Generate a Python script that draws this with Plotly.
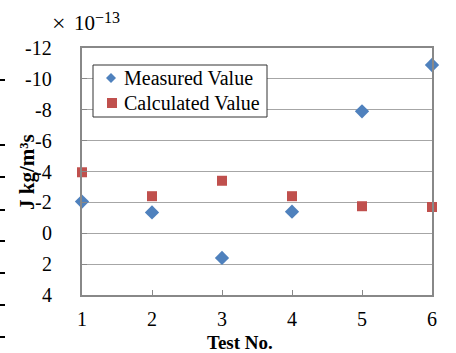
import plotly.graph_objects as go

tests = [1, 2, 3, 4, 5, 6]
measured = [-2.05, -1.35, 1.6, -1.4, -7.9, -10.9]
calculated = [-3.95, -2.4, -3.4, -2.4, -1.75, -1.7]
y_ticks = [-12, -10, -8, -6, -4, -2, 0, 2, 4]
y_tick_labels = ["-12", "-10", "-8", "-6", "-4", "-2", "0", "2", "4"]
series_names = ["Measured Value", "Calculated Value"]
series_colors = ["#4F81BD", "#C0504D"]

FONT = "Liberation Serif, Times New Roman, serif"

# plot area in pixels
L, R, T, B = 82, 432, 48, 295
def px(x): return (x - L) / (R - L)
def py(y): return (B - y) / (B - T)

fig = go.Figure()
fig.add_trace(go.Scatter(
    x=tests, y=measured, mode="markers", name=series_names[0],
    marker=dict(symbol="diamond", size=11, color=series_colors[0]),
    cliponaxis=False))
fig.add_trace(go.Scatter(
    x=tests, y=calculated, mode="markers", name=series_names[1],
    marker=dict(symbol="square", size=10, color=series_colors[1]),
    cliponaxis=False))

fig.update_layout(
    width=456, height=353,
    margin=dict(l=L, r=456 - R, t=T, b=353 - B, autoexpand=False),
    paper_bgcolor="white", plot_bgcolor="white",
    font=dict(family=FONT, size=20, color="black"),
    showlegend=False,
    xaxis=dict(range=[1, 6], tickvals=tests, showgrid=False,
               showline=True, linecolor="#888888", linewidth=1.5, mirror=True,
               ticks="inside", ticklen=5, tickcolor="#888888",
               ticklabelstandoff=5, zeroline=False, automargin=False,
               tickfont=dict(family=FONT, size=20)),
    yaxis=dict(range=[4, -12], tickvals=y_ticks, showticklabels=False,
               showgrid=True, gridcolor="#A6A6A6", gridwidth=1,
               showline=True, linecolor="#888888", linewidth=1.5, mirror=True,
               ticks="inside", ticklen=5, tickcolor="#888888",
               zeroline=False, automargin=False),
)

# y tick labels, placed on the y axis scale
for v, lab in zip(y_ticks, y_tick_labels):
    fig.add_annotation(text=lab, xref="paper", yref="y", x=px(54), y=v,
                       xanchor="right", yanchor="middle", showarrow=False,
                       font=dict(family=FONT, size=20))

# legend box (drawn by hand to match the reference spacing)
fig.add_shape(type="rect", xref="paper", yref="paper",
              x0=px(93), x1=px(267), y0=py(117), y1=py(65),
              line=dict(color="#333333", width=1), fillcolor="white", layer="above")
cx, cy, h = 111, 78, 5
fig.add_shape(type="path", xref="paper", yref="paper", layer="above",
              path=f"M {px(cx)},{py(cy - h)} L {px(cx + h)},{py(cy)} L {px(cx)},{py(cy + h)} L {px(cx - h)},{py(cy)} Z",
              line=dict(width=0), fillcolor=series_colors[0])
fig.add_shape(type="rect", xref="paper", yref="paper", layer="above",
              x0=px(107), x1=px(117), y0=py(108), y1=py(98),
              line=dict(width=0), fillcolor=series_colors[1])
for name, yc in zip(series_names, [78, 103]):
    fig.add_annotation(text=name, xref="paper", yref="paper",
                       x=px(122), y=py(yc), xanchor="left", yanchor="middle",
                       showarrow=False, font=dict(family=FONT, size=20))

fig.add_annotation(text="<b>Test No.</b>", xref="paper", yref="paper",
                   x=px(240), y=py(342), xanchor="center", yanchor="middle",
                   showarrow=False, font=dict(family=FONT, size=19))
fig.add_annotation(text="<b>J kg/m³s</b>", xref="paper", yref="paper",
                   x=px(27), y=py(172), xanchor="center", yanchor="middle",
                   textangle=-90, showarrow=False, font=dict(family=FONT, size=21))
fig.add_annotation(text="×", xref="paper", yref="paper",
                   x=px(59), y=py(23), xanchor="center", yanchor="middle",
                   showarrow=False, font=dict(family=FONT, size=24))
fig.add_annotation(text="10", xref="paper", yref="paper",
                   x=px(72), y=py(23), xanchor="left", yanchor="middle",
                   showarrow=False, font=dict(family=FONT, size=21))
fig.add_annotation(text="−13", xref="paper", yref="paper",
                   x=px(93), y=py(17), xanchor="left", yanchor="middle",
                   showarrow=False, font=dict(family=FONT, size=16))

# stray dashes at the left edge of the cropped image
for yp in [80, 145, 177, 210, 241, 273, 305, 337]:
    fig.add_shape(type="line", xref="paper", yref="paper",
                  x0=px(0), x1=px(5), y0=py(yp), y1=py(yp),
                  line=dict(color="black", width=2))

fig.write_html("out.html")
